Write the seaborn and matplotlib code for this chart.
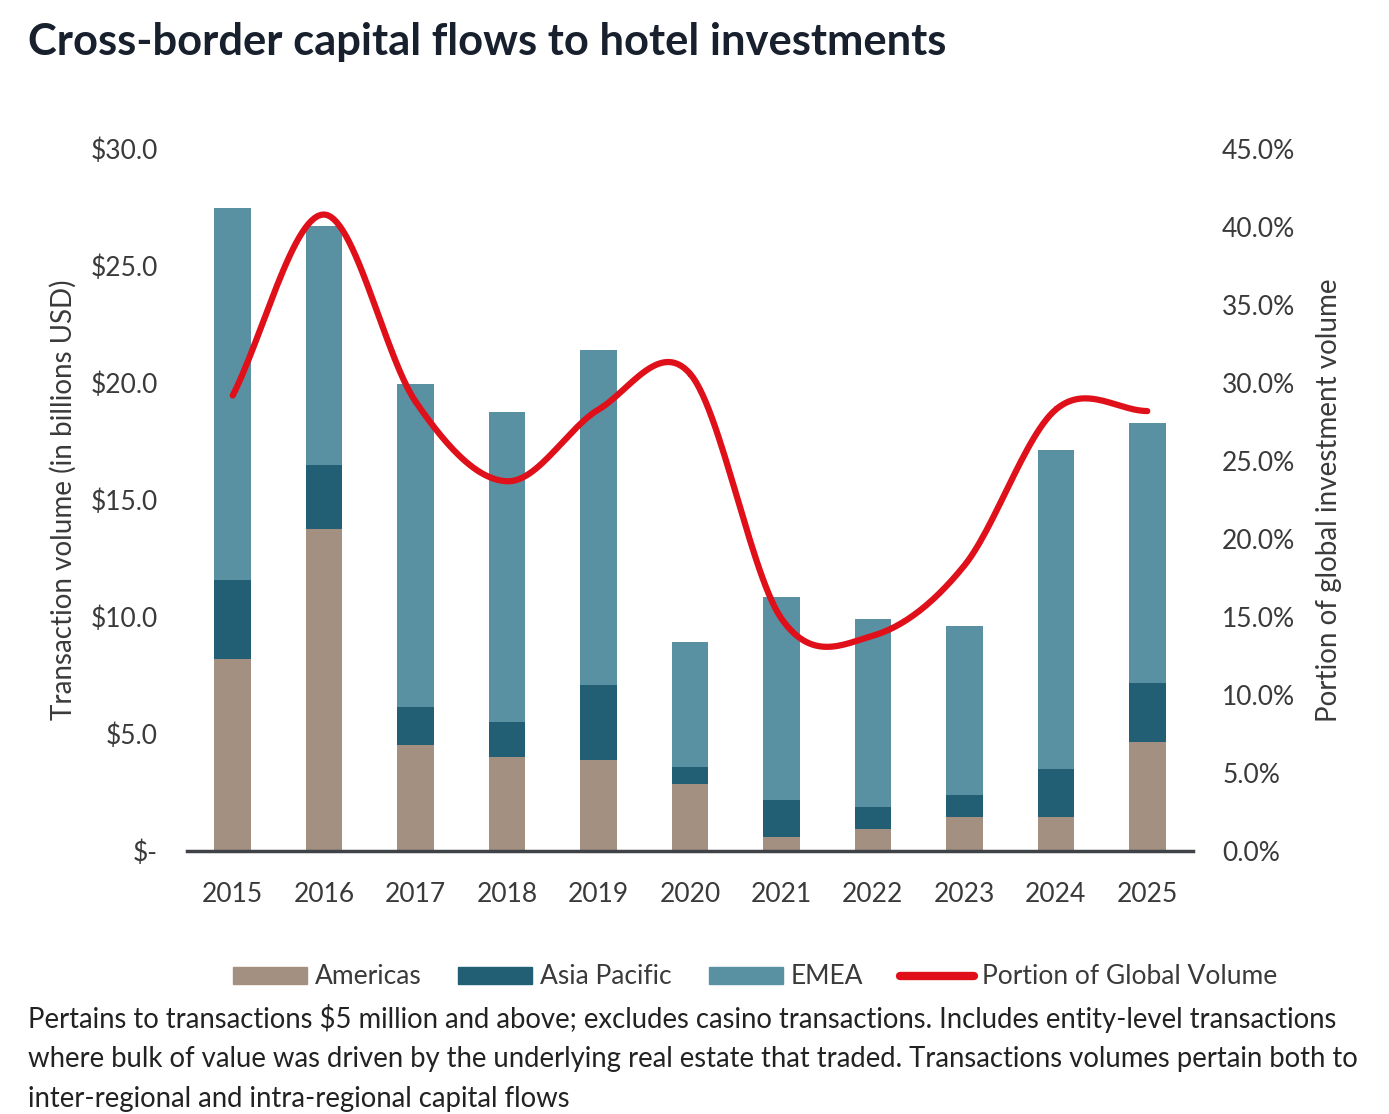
import numpy as np
import pandas as pd
import seaborn as sns
import matplotlib.pyplot as plt
from matplotlib.patches import Patch
from matplotlib.lines import Line2D

years = ["2015", "2016", "2017", "2018", "2019", "2020", "2021", "2022", "2023", "2024", "2025"]
americas = [8.2, 13.75, 4.55, 4.0, 3.9, 2.85, 0.6, 0.95, 1.45, 1.45, 4.65]
asia_pacific = [3.4, 2.75, 1.6, 1.5, 3.2, 0.75, 1.6, 0.95, 0.95, 2.05, 2.55]
emea = [15.9, 10.2, 13.8, 13.25, 14.3, 5.35, 8.65, 8.0, 7.2, 13.65, 11.1]
portion = [29.2, 40.8, 28.8, 23.7, 28.3, 30.6, 14.9, 13.8, 18.3, 28.3, 28.2]

c_am = "#a39081"
c_ap = "#235f74"
c_em = "#5a91a2"
c_line = "#e0101a"
txt = "#3a3a3a"

sns.set_style("white")
plt.rcParams['font.family'] = ['Lato', 'DejaVu Sans']

fig = plt.figure(figsize=(13.89, 11.14), dpi=100)
ax = fig.add_axes([187 / 1389, 1 - 851 / 1114, 1006 / 1389, 702 / 1114])

df = pd.DataFrame({"year": years, "am": americas, "ap": asia_pacific, "em": emea})
df["ap_bottom"] = df["am"]
df["em_bottom"] = df["am"] + df["ap"]

bar_kw = dict(width=0.4, saturation=1, linewidth=0, ax=ax)
sns.barplot(data=df, x="year", y="am", color=c_am, **bar_kw)
sns.barplot(data=df, x="year", y="ap", bottom=df["ap_bottom"], color=c_ap, **bar_kw)
sns.barplot(data=df, x="year", y="em", bottom=df["em_bottom"], color=c_em, **bar_kw)

ax.set_xlim(-0.5, 10.5)
ax.set_ylim(0, 30)
ax.set_yticks(np.arange(0, 31, 5))
ax.set_yticklabels(["$-"] + [f"${v:.1f}" for v in np.arange(5, 31, 5)])
ax.set_xlabel("")
ax.set_ylabel("Transaction volume (in billions USD)", fontsize=20, color=txt, labelpad=10)
for s in ["left", "right", "top"]:
    ax.spines[s].set_visible(False)
ax.spines["bottom"].set_color("#3f4246")
ax.spines["bottom"].set_linewidth(2.5)
ax.tick_params(axis="y", length=0, pad=21, labelsize=19, labelcolor=txt)
ax.tick_params(axis="x", length=0, pad=22, labelsize=19, labelcolor=txt)

# smoothed line (Catmull-Rom through the yearly values)
ax2 = ax.twinx()
xs = np.arange(len(portion), dtype=float)
ys = np.array(portion)
px = np.concatenate([[2 * xs[0] - xs[1]], xs, [2 * xs[-1] - xs[-2]]])
py = np.concatenate([[2 * ys[0] - ys[1]], ys, [2 * ys[-1] - ys[-2]]])
cx, cy = [], []
t = np.linspace(0, 1, 30)
for i in range(1, len(px) - 2):
    for arr, out in ((px, cx), (py, cy)):
        p0, p1, p2, p3 = arr[i - 1], arr[i], arr[i + 1], arr[i + 2]
        out.extend(0.5 * ((2 * p1) + (-p0 + p2) * t + (2 * p0 - 5 * p1 + 4 * p2 - p3) * t ** 2
                          + (-p0 + 3 * p1 - 3 * p2 + p3) * t ** 3))
sns.lineplot(x=cx, y=cy, color=c_line, linewidth=4.5, ax=ax2, sort=False, estimator=None)
ax2.set_ylim(0, 45)
ax2.set_xlim(-0.5, 10.5)
ax2.set_yticks(np.arange(0, 46, 5))
ax2.set_yticklabels([f"{v:.1f}%" for v in np.arange(0, 46, 5)])
ax2.set_ylabel("Portion of global investment volume", fontsize=20, color=txt, labelpad=15)
ax2.tick_params(axis="y", length=0, pad=21, labelsize=19, labelcolor=txt)
for s in ["left", "right", "top", "bottom"]:
    ax2.spines[s].set_visible(False)

handles = [Patch(color=c_am, label="Americas"), Patch(color=c_ap, label="Asia Pacific"),
           Patch(color=c_em, label="EMEA"),
           Line2D([], [], color=c_line, linewidth=6, solid_capstyle="round", label="Portion of Global Volume")]
leg = fig.legend(handles=handles, loc="center", bbox_to_anchor=(755 / 1389, 1 - 977 / 1114), ncol=4,
                 frameon=False, fontsize=19, handlelength=2.8, handleheight=0.6, handletextpad=0.3,
                 columnspacing=1.4)
for tx in leg.get_texts():
    tx.set_color(txt)

fig.text(28 / 1389, 1 - 42 / 1114, "Cross-border capital flows to hotel investments", fontsize=31.3,
         fontweight="bold", color="#17202c", va="center", ha="left")
fig.text(28 / 1389, 1 - 1004 / 1114,
         "Pertains to transactions $5 million and above; excludes casino transactions. Includes entity-level transactions\n"
         "where bulk of value was driven by the underlying real estate that traded. Transactions volumes pertain both to\n"
         "inter-regional and intra-regional capital flows",
         fontsize=19.8, color="#222222", va="top", ha="left", linespacing=1.64)

fig.savefig("out.png", dpi=100)
